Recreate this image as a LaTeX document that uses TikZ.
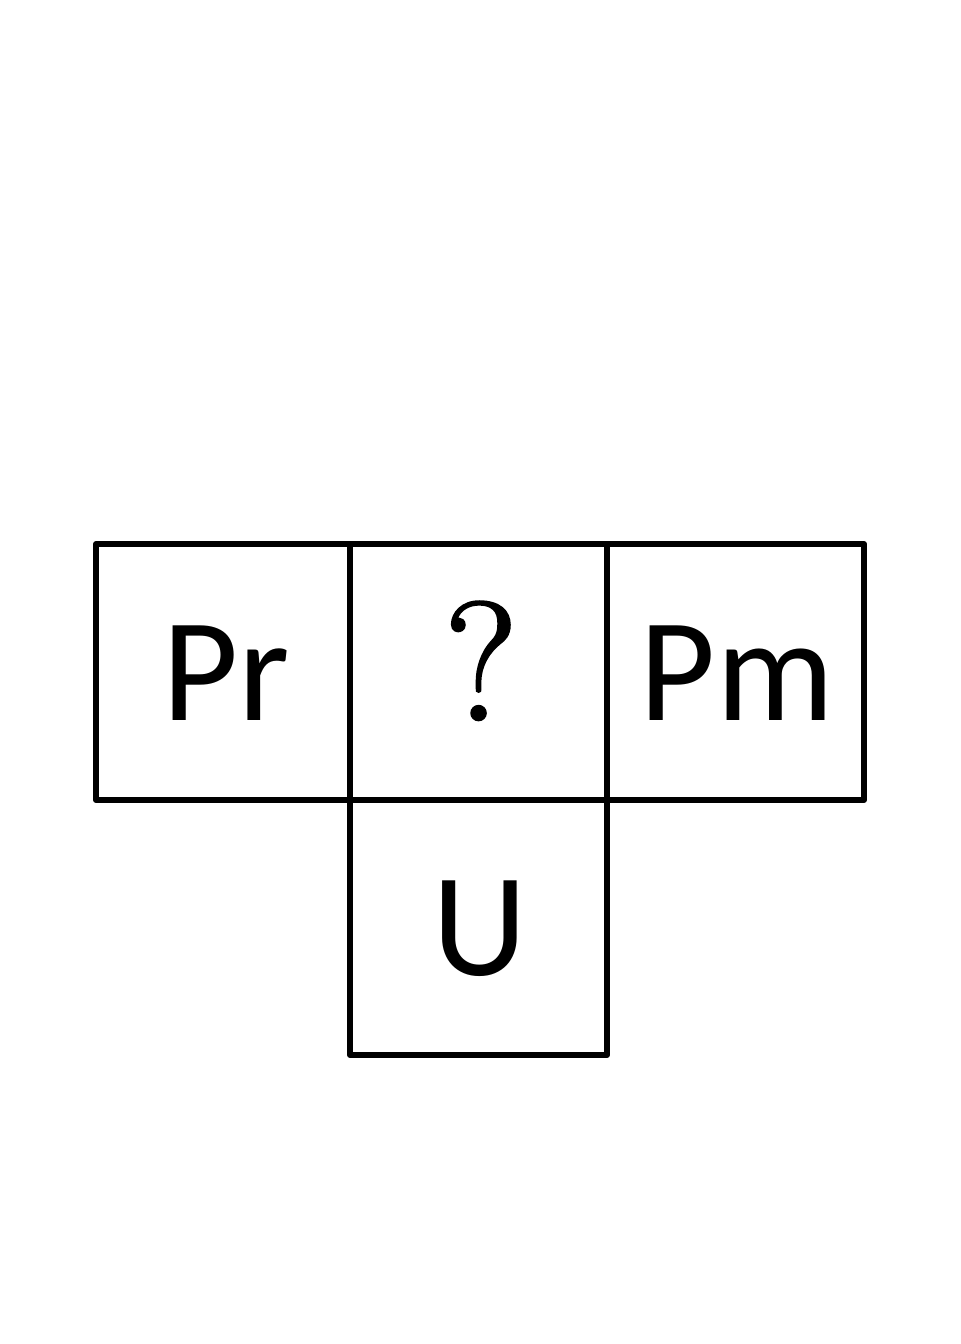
\documentclass[tikz,border=0pt]{standalone}
\usepackage{fontspec}
\setmainfont{Carlito}
\newfontfamily\qfont[FakeBold=1.6]{Latin Modern Roman}
\begin{document}
\begin{tikzpicture}[x=0.02cm,y=-0.02cm,
  cell/.style={draw=black,line width=3.5pt,line join=round},
  lbl/.style={anchor=base,inner sep=0pt,font=\fontsize{84}{84}\selectfont}]
\useasboundingbox (0,0) rectangle (960,1344);
\draw[cell] (96,544) rectangle (350,800);
\draw[cell] (350,544) rectangle (607,800);
\draw[cell] (607,544) rectangle (864,800);
\draw[cell] (350,800) rectangle (607,1055);
\node[lbl] (pr) at (226,720) {Pr};
\node[anchor=base,inner sep=0pt,font=\qfont\fontsize{96}{96}\selectfont] (q) at (481,720) {?};
\node[lbl] (pm) at (737,720) {Pm};
\node[lbl] (u) at (480,975) {U};
\end{tikzpicture}
\end{document}
